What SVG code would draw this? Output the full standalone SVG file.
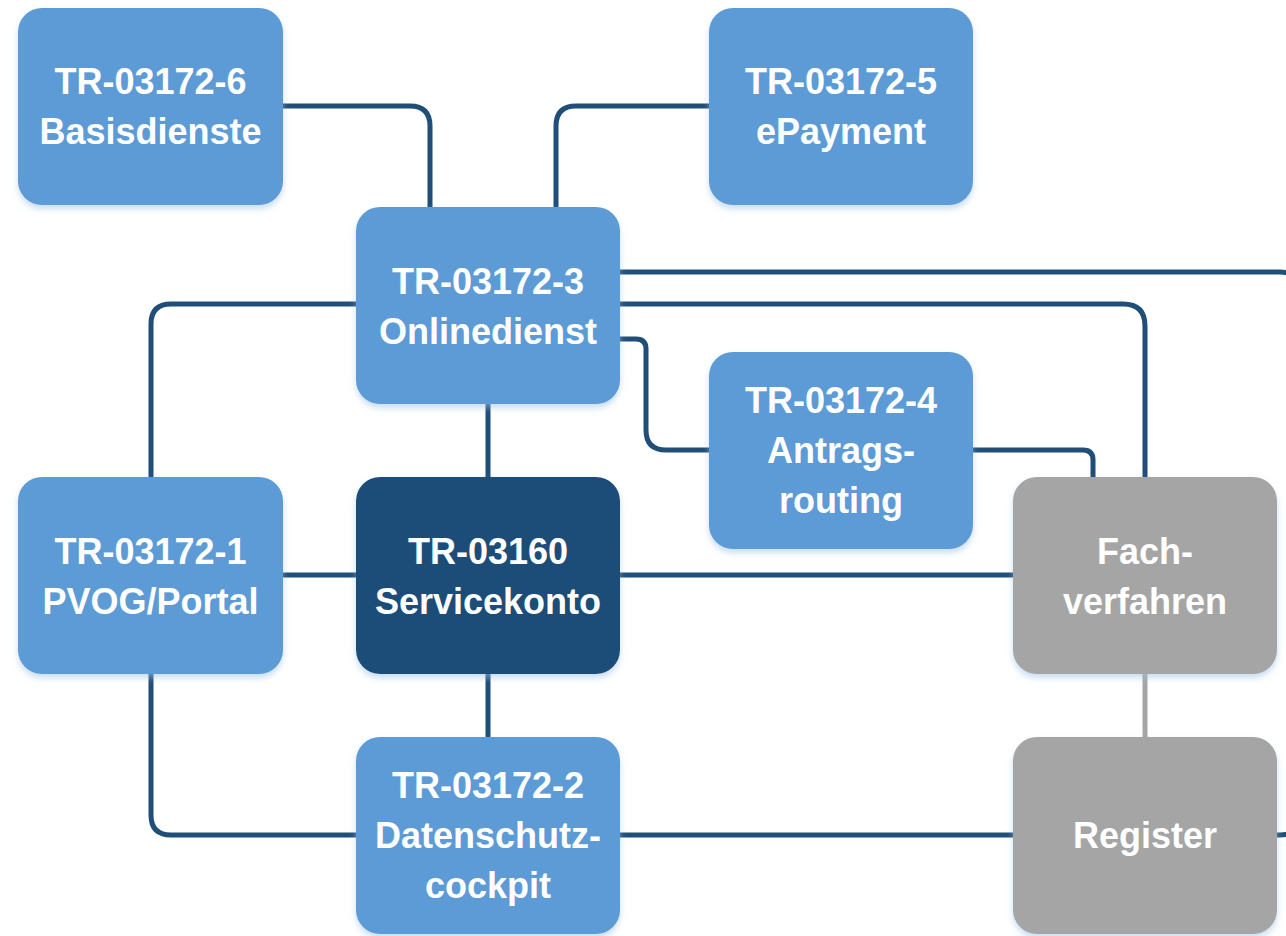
<svg xmlns="http://www.w3.org/2000/svg" width="1286" height="936" viewBox="0 0 1286 936">
<defs>
<filter id="sh" x="-10%" y="-10%" width="120%" height="125%">
<feDropShadow dx="0" dy="4" stdDeviation="3" flood-color="#9DC3E6" flood-opacity="0.55"/>
</filter>
<style>
.box{filter:url(#sh);}
.lb{fill:#5B9BD5;}
.dk{fill:#1F4E79;}
.gr{fill:#A5A5A5;}
.t{font-family:"Liberation Sans",Arial,sans-serif;font-weight:bold;font-size:36px;fill:#FFFFFF;text-anchor:middle;}
.c{fill:none;stroke:#1F4E79;stroke-width:5;stroke-linecap:round;stroke-linejoin:round;}
.cg{fill:none;stroke:#A5A5A5;stroke-width:5;stroke-linecap:round;}
</style>
</defs>
<rect width="1286" height="936" fill="#FFFFFF"/>
<g id="connectors">
<path class="c" d="M283,106 H410 Q430,106 430,126 V207"/>
<path class="c" d="M709,106 H576 Q556,106 556,126 V207"/>
<path class="c" d="M620,272 H1280 Q1300,272 1300,292 V815 Q1300,835 1280,835 H1277"/>
<path class="c" d="M620,304 H1123 Q1145,304 1145,326 V477"/>
<path class="c" d="M620,339 H636 Q646,339 646,349 V430 Q646,450 666,450 H709"/>
<path class="c" d="M973,450 H1083 Q1093,450 1093,460 V477"/>
<path class="c" d="M356,304 H171 Q151,304 151,324 V477"/>
<path class="c" d="M488,404 V477"/>
<path class="c" d="M283,575 H356"/>
<path class="c" d="M620,575 H1013"/>
<path class="c" d="M488,674 V737"/>
<path class="c" d="M151,674 V815 Q151,835 171,835 H356"/>
<path class="c" d="M620,835 H1013"/>
<path class="cg" d="M1145,674 V737"/>
</g>
<g id="n6">
<rect class="box lb" x="18" y="8" width="265" height="197" rx="24"/>
<text class="t" x="150.5" y="94">TR-03172-6</text>
<text class="t" x="150.5" y="144">Basisdienste</text>
</g>
<g id="n5">
<rect class="box lb" x="709" y="8" width="264" height="197" rx="24"/>
<text class="t" x="841" y="94">TR-03172-5</text>
<text class="t" x="841" y="144">ePayment</text>
</g>
<g id="n3">
<rect class="box lb" x="356" y="207" width="264" height="197" rx="24"/>
<text class="t" x="488" y="294">TR-03172-3</text>
<text class="t" x="488" y="344">Onlinedienst</text>
</g>
<g id="n4">
<rect class="box lb" x="709" y="352" width="264" height="197" rx="24"/>
<text class="t" x="841" y="413">TR-03172-4</text>
<text class="t" x="841" y="463">Antrags-</text>
<text class="t" x="841" y="513">routing</text>
</g>
<g id="n1">
<rect class="box lb" x="18" y="477" width="265" height="197" rx="24"/>
<text class="t" x="150.5" y="564">TR-03172-1</text>
<text class="t" x="150.5" y="614">PVOG/Portal</text>
</g>
<g id="sk">
<rect class="box dk" x="356" y="477" width="264" height="197" rx="24"/>
<text class="t" x="488" y="564">TR-03160</text>
<text class="t" x="488" y="614">Servicekonto</text>
</g>
<g id="fv">
<rect class="box gr" x="1013" y="477" width="264" height="197" rx="24"/>
<text class="t" x="1145" y="564">Fach-</text>
<text class="t" x="1145" y="614">verfahren</text>
</g>
<g id="n2">
<rect class="box lb" x="356" y="737" width="264" height="197" rx="24"/>
<text class="t" x="488" y="798">TR-03172-2</text>
<text class="t" x="488" y="848">Datenschutz-</text>
<text class="t" x="488" y="898">cockpit</text>
</g>
<g id="reg">
<rect class="box gr" x="1013" y="737" width="264" height="197" rx="24"/>
<text class="t" x="1145" y="848">Register</text>
</g>
</svg>
